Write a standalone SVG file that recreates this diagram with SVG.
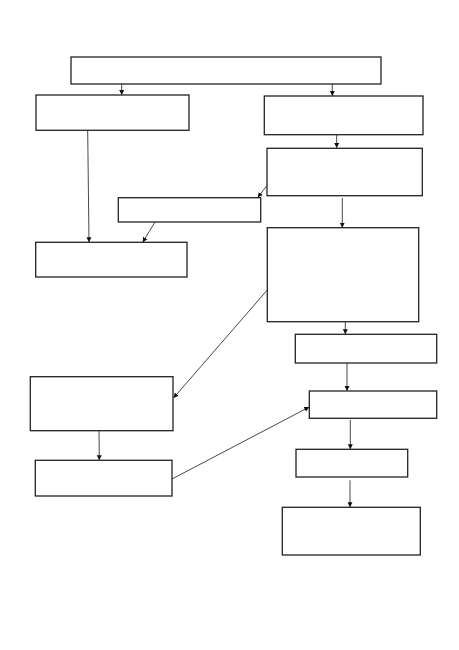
<svg xmlns="http://www.w3.org/2000/svg" width="459" height="650" viewBox="0 0 459 650">
<defs>
<marker id="ah" markerWidth="6" markerHeight="6" refX="5" refY="3" orient="auto" markerUnits="userSpaceOnUse">
<path d="M0,0.5 L5,3 L0,5.5 Z" fill="#111"/>
</marker>
<style>
.box{fill:#fff;stroke:#222;stroke-width:1.3}
.c{fill:none;stroke:#333;stroke-width:0.9;marker-end:url(#ah)}
.l{fill:none;stroke:#333;stroke-width:0.9}
</style>
</defs>
<rect width="459" height="650" fill="#fff"/>
<g id="connectors">
<line class="c" x1="121.7" y1="84" x2="121.7" y2="95"/>
<line class="c" x1="332.3" y1="84" x2="332.3" y2="96"/>
<line class="c" x1="336.7" y1="135" x2="336.7" y2="148"/>
<line class="c" x1="87.7" y1="130.5" x2="89" y2="242.3"/>
<line class="c" x1="266.7" y1="186" x2="257.7" y2="197.5"/>
<line class="c" x1="155" y1="222" x2="142.7" y2="242.3"/>
<line class="c" x1="342.3" y1="198" x2="342.3" y2="227.7"/>
<line class="c" x1="345.3" y1="321.7" x2="345.3" y2="334.3"/>
<line class="c" x1="267.3" y1="290" x2="173.5" y2="398"/>
<line class="c" x1="347" y1="363" x2="347" y2="391"/>
<line class="c" x1="350.3" y1="420" x2="350.3" y2="449.3"/>
<line class="c" x1="350" y1="480.3" x2="350" y2="507.3"/>
<line class="c" x1="99" y1="430.7" x2="99.3" y2="460.3"/>
<line class="c" x1="172" y1="479" x2="309.3" y2="407"/>
</g>
<g id="n1"><rect class="box" x="71" y="57" width="310" height="27"/></g>
<g id="n2"><rect class="box" x="36" y="95" width="153" height="35.3"/></g>
<g id="n3"><rect class="box" x="264.3" y="96" width="158.7" height="38.7"/></g>
<g id="n4"><rect class="box" x="267" y="148.3" width="155.3" height="47.4"/></g>
<g id="n5"><rect class="box" x="118.3" y="197.7" width="142.4" height="24.3"/></g>
<g id="n6"><rect class="box" x="35.7" y="242.3" width="151.3" height="34.7"/></g>
<g id="n7"><rect class="box" x="267.3" y="227.7" width="151.4" height="94"/></g>
<g id="n8"><rect class="box" x="295.3" y="334.3" width="141.4" height="28.7"/></g>
<g id="n9"><rect class="box" x="309.3" y="391" width="127.4" height="27.3"/></g>
<g id="n10"><rect class="box" x="296" y="449.3" width="111.7" height="27.7"/></g>
<g id="n11"><rect class="box" x="282.3" y="507.3" width="138" height="47.7"/></g>
<g id="n12"><rect class="box" x="30.3" y="376.7" width="142.7" height="54"/></g>
<g id="n13"><rect class="box" x="35.3" y="460.3" width="136.7" height="35.7"/></g>
</svg>
